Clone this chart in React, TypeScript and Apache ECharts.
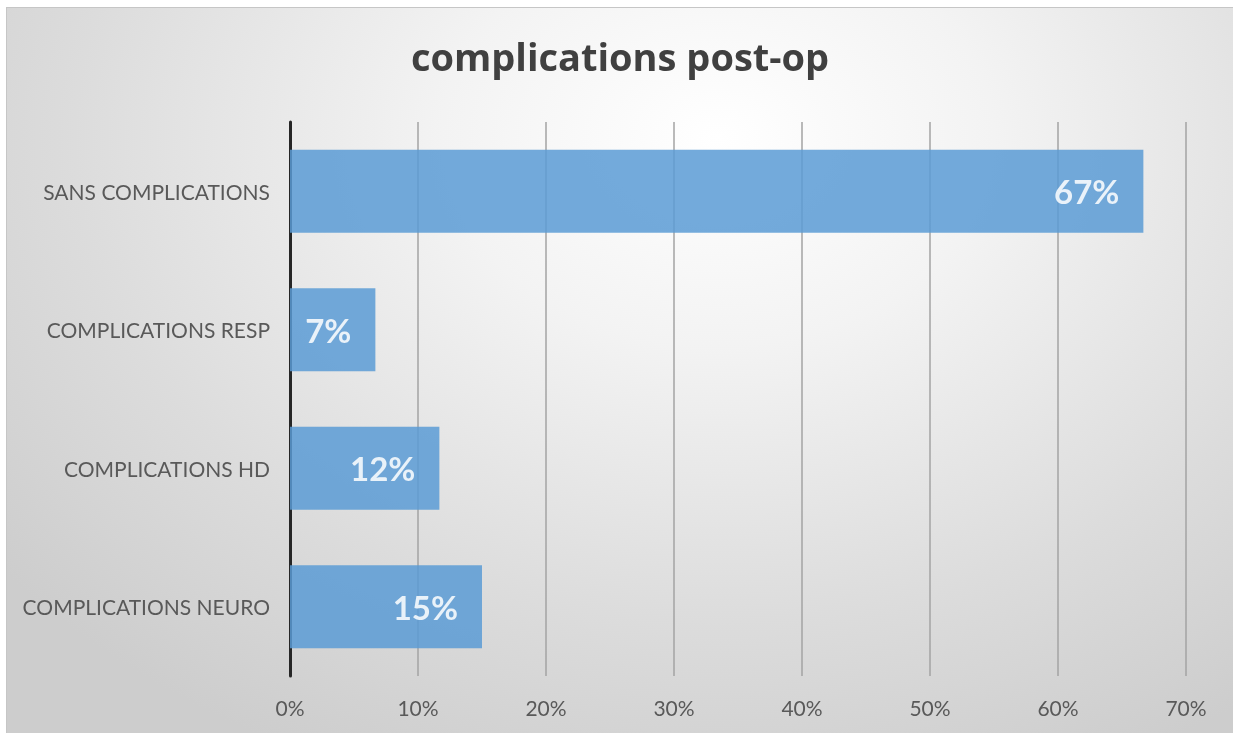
import React, { useEffect, useRef } from "react";
import * as echarts from "echarts";

const categories = [
  "SANS COMPLICATIONS",
  "COMPLICATIONS RESP",
  "COMPLICATIONS HD",
  "COMPLICATIONS NEURO",
];
const values = [66.67, 6.67, 11.67, 15.0];
const labels = ["67%", "7%", "12%", "15%"];
const xTicks = [0, 10, 20, 30, 40, 50, 60, 70];

export default function App() {
  const ref = useRef<HTMLDivElement>(null);
  useEffect(() => {
    if (!ref.current) return;
    const chart = echarts.init(ref.current, undefined, { renderer: "svg" });
    chart.setOption({
      animation: false,
      backgroundColor: "transparent",
      title: {
        text: "complications post-op",
        left: "center",
        top: 24,
        textStyle: {
          fontFamily: "Open Sans",
          fontWeight: "bold",
          fontSize: 38,
          color: "#404040",
        },
      },
      grid: { left: 283, right: 47, top: 114, bottom: 57, containLabel: false },
      xAxis: {
        type: "value",
        min: xTicks[0],
        max: xTicks[xTicks.length - 1],
        interval: 10,
        axisLine: { show: false },
        axisTick: { show: false },
        splitLine: { show: true, lineStyle: { color: "#a3a3a3", width: 1.5 } },
        axisLabel: {
          formatter: (v: number) => v + "%",
          fontFamily: "Lato",
          fontSize: 21,
          color: "#595959",
          margin: 21,
        },
      },
      yAxis: {
        type: "category",
        data: categories,
        inverse: true,
        axisLine: { show: true, lineStyle: { color: "#262626", width: 3 } },
        axisTick: { show: false },
        splitLine: { show: false },
        axisLabel: {
          fontFamily: "Lato",
          fontSize: 21,
          color: "#595959",
          margin: 20,
        },
      },
      series: [
        {
          type: "bar",
          data: values,
          barCategoryGap: "40%",
          itemStyle: { color: "#5b9bd5", opacity: 0.85 },
          label: {
            show: true,
            position: "insideRight",
            distance: 24,
            formatter: (p: any) => labels[p.dataIndex],
            fontFamily: "Lato",
            fontWeight: "bold",
            fontSize: 33,
            color: "#ffffff",
          },
        },
      ],
    });
    return () => chart.dispose();
  }, []);
  return (
    <div
      style={{
        position: "fixed",
        left: 6,
        top: 7,
        width: 1227,
        height: 726,
        borderTop: "1px solid #c6c6c6",
        borderLeft: "1px solid #c6c6c6",
        boxSizing: "border-box",
        background:
          "radial-gradient(ellipse 75% 95% at 58% 18%, #ffffff 0%, #f3f3f3 30%, #dcdcdc 70%, #cdcdcd 100%)",
      }}
    >
      <div ref={ref} style={{ width: "100%", height: "100%" }} />
    </div>
  );
}
